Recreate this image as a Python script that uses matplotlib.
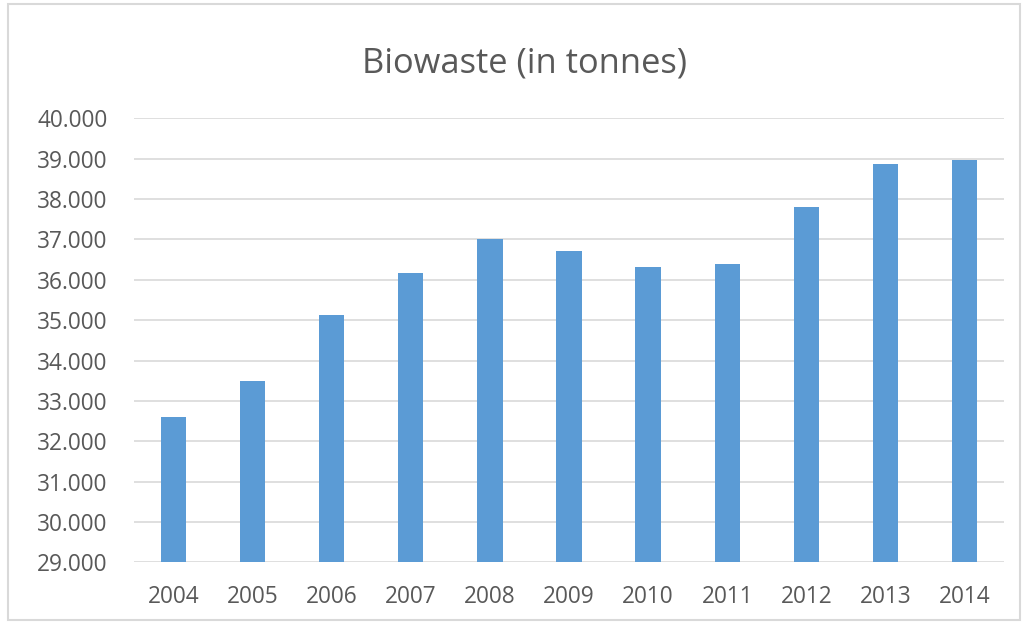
import matplotlib.pyplot as plt
from matplotlib.patches import Rectangle
from matplotlib.ticker import FuncFormatter

# Biowaste in tonnes per year
years = ['2004', '2005', '2006', '2007', '2008', '2009', '2010', '2011', '2012', '2013', '2014']
tonnes = [32600, 33490, 35140, 36170, 37010, 36720, 36310, 36390, 37800, 38860, 38960]

plt.rcParams['font.family'] = ['Open Sans', 'DejaVu Sans']
grey = '#595959'

fig = plt.figure(figsize=(10.26, 6.23), dpi=100)
ax = fig.add_axes([0.1306, 0.0974, 0.848, 0.7126])

ax.bar(range(len(years)), tonnes, width=0.32, color='#5B9BD5', zorder=3)

ax.set_xlim(-0.5, len(years) - 0.5)
ax.set_ylim(29000, 40000)
ax.set_yticks(range(29000, 40001, 1000))
ax.yaxis.set_major_formatter(FuncFormatter(lambda v, p: f'{v:,.0f}'.replace(',', '.')))
ax.set_xticks(range(len(years)))
ax.set_xticklabels(years)

ax.grid(axis='y', color='#D9D9D9', linewidth=1.2, zorder=0)
ax.tick_params(axis='both', length=0, labelsize=16.3, colors=grey)
ax.tick_params(axis='y', pad=19)
ax.tick_params(axis='x', pad=16)
for s in ax.spines.values():
    s.set_visible(False)

fig.text(0.511, 1 - 63 / 623, 'Biowaste (in tonnes)', ha='center', va='center',
         fontsize=24.8, color=grey)

# light frame round the chart
fig.patches.append(Rectangle((8 / 1026, 3 / 623), 1012 / 1026, 616 / 623,
                             transform=fig.transFigure, fill=False,
                             edgecolor='#D9D9D9', linewidth=1.5))

fig.savefig('out.png', dpi=100)
